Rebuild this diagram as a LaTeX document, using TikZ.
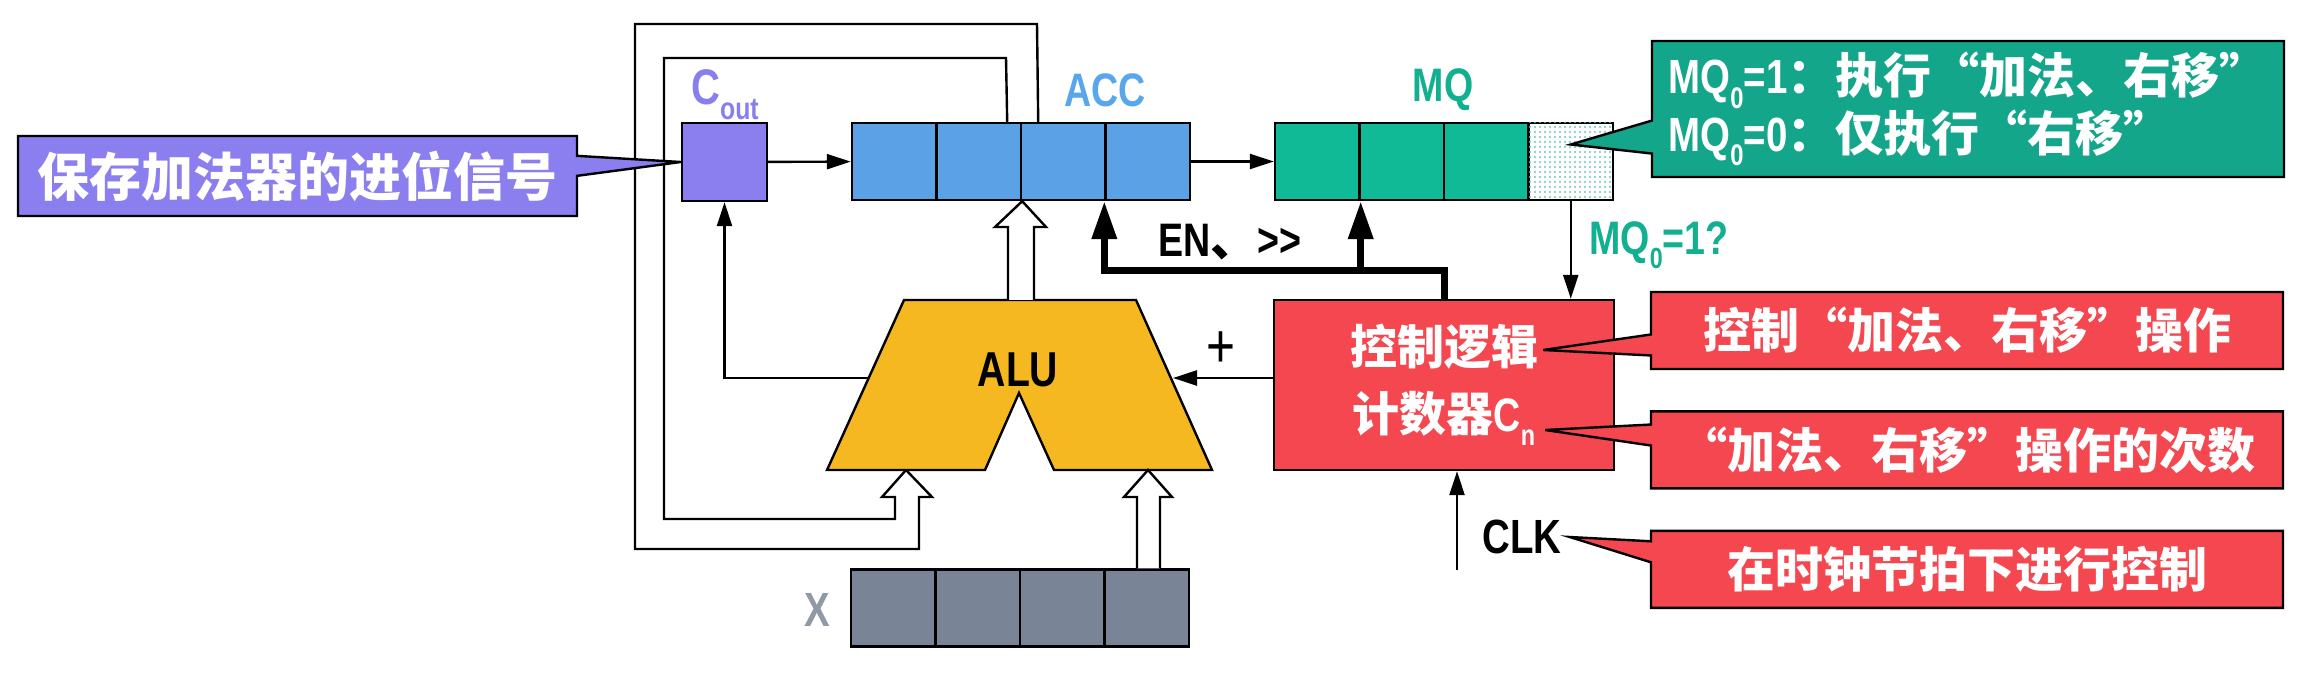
\documentclass[tikz,border=0pt]{standalone}
\usepackage{fontspec}
\setmainfont{Liberation Sans}[FakeStretch=0.8]
\newfontfamily\cj{Noto Sans CJK SC}[RawFeature=+fwid]
\usetikzlibrary{arrows.meta,shapes.callouts,patterns.meta,positioning}

\definecolor{coutpurple}{RGB}{139,127,240}
\definecolor{coutlbl}{RGB}{136,126,238}
\definecolor{accblue}{RGB}{90,161,230}
\definecolor{acclbl}{RGB}{88,166,236}
\definecolor{mqgreen}{RGB}{16,186,150}
\definecolor{mqlbl}{RGB}{18,176,144}
\definecolor{dotgreen}{RGB}{110,200,185}
\definecolor{notegreen}{RGB}{19,166,138}
\definecolor{ctrlred}{RGB}{245,71,79}
\definecolor{aluyellow}{RGB}{245,184,32}
\definecolor{xgray}{RGB}{122,132,151}
\definecolor{xlbl}{RGB}{145,152,168}

\newcommand\lowsub[1]{\raisebox{-.3em}{\scalebox{.62}{#1}}}
\newcommand\cjb[1]{{\cj\bfseries #1}}

\tikzset{
  wire/.style={line width=2.4pt},
  cell/.style={draw,line width=2.4pt,minimum width=84.5pt,minimum height=77pt,inner sep=0pt},
  lbl/.style={inner sep=0pt,font=\fontsize{47}{50}\selectfont\bfseries},
  callbox/.style={rectangle callout,draw,line width=2.4pt,minimum width=632pt,
    minimum height=77pt,inner sep=0pt,text=white,callout pointer width=21pt,
    font=\fontsize{48}{56}\selectfont},
  ctrlline/.style={line width=7pt,-{Triangle[length=38pt,width=24pt]}},
  >={Triangle[length=24pt,width=15pt]}
}

\begin{document}
\begin{tikzpicture}[x=1pt,y=-1pt]
  \useasboundingbox (0,0) rectangle (2306,692);

  % registers
  \node[cell,fill=coutpurple,minimum width=85pt,minimum height=78pt] (cout) at (724.5,162) {};
  \foreach \i in {1,...,4}
    \node[cell,fill=accblue] (acc\i) at ({852+84.5*(\i-0.5)},161.5) {};
  \foreach \i in {1,...,3}
    \node[cell,fill=mqgreen] (mq\i) at ({1275+84.5*(\i-0.5)},161.5) {};
  \node[cell,fill=white,postaction={pattern={Dots[distance=5pt,radius=1.1pt]},pattern color=dotgreen}]
    (mq4) at ({1275+84.5*3.5},161.5) {};
  \foreach \i in {1,...,4}
    \node[cell,fill=xgray] (x\i) at ({851+84.5*(\i-0.5)},608) {};

  \node[lbl,text=coutlbl,font=\fontsize{50}{50}\selectfont\bfseries] (coutname) at (725,95) {C\lowsub{out}};
  \node[lbl,text=acclbl] (accname) at (1105,90) {ACC};
  \node[lbl,text=mqlbl] (mqname) at (1443,90) {MQ};
  \node[lbl,text=xlbl,font=\fontsize{48}{50}\selectfont\bfseries] (xname) at (817,610) {X};

  % feedback bus ACC -> ALU
  \draw[wire] ([xshift=-15pt]acc2.north east) -- (1006,58) -- (664,58) -- (664,519) -- (895,519)
    -- (895,497) -- (882,497) -- (906,470) -- (932,497) -- (919,497) -- (919,549)
    -- (635,549) -- (635,24) -- (1037,24) -- ([xshift=16pt]acc2.north east);

  % ALU
  \draw[wire,fill=aluyellow] (904,300) -- (1136,300) -- (1212,470) -- (1054,470)
    -- (1019,393) -- (985,470) -- (827,470) -- cycle;
  \node[lbl,font=\fontsize{49}{50}\selectfont\bfseries] (alu) at (1018,370) {ALU};
  \coordinate (alul) at (869,378);
  \coordinate (alur) at (1173,378);

  \draw[wire,fill=white] (1008,300) -- (1008,227) -- (995,227) -- (acc2.south east)
    -- (1046,227) -- (1034,227) -- (1034,300);
  \draw[wire,fill=white] (x4.north -| 1137,0) -- (1137,497) -- (1124,497) -- (1148,470)
    -- (1172,497) -- (1160,497) -- (x4.north -| 1160,0);

  % control
  \node[draw,line width=2.4pt,fill=ctrlred,minimum width=340pt,minimum height=170pt,
    text=white,align=center,inner sep=0pt,font=\fontsize{47}{67}\selectfont] (ctrl) at (1444,385)
    {\cjb{控制逻辑}\\\cjb{计数器}{\bfseries C\lowsub{n}}};

  \draw[wire,->] (cout) -- (acc1);
  \draw[wire,->] (acc4) -- (mq1);
  \draw[wire,->] (alul) -| (cout.south);
  \draw[wire,->] (alur -| ctrl.west) -- (alur);
  \node[inner sep=0pt,font=\fontsize{62}{62}\selectfont] (plus) at (1221,350) {+};
  \draw[wire,->] (mq4.south) -- (mq4.south |- ctrl.north);
  \node[lbl,text=mqlbl] (mqtest) at (1659,245) {MQ\lowsub{0}=1?};

  \draw[ctrlline] (ctrl.north) -- ++(0,-28) coordinate (bus) -| (acc4.south west);
  \draw[ctrlline] (bus -| mq1.south east) -- (mq1.south east);
  \node[lbl] (en) at (1230,242) {EN\cjb{、}{>}{>}};

  \coordinate (clkin) at (1457,570);
  \draw[wire,->] (clkin) -- (clkin |- ctrl.south);
  \node[lbl,font=\fontsize{48}{50}\selectfont\bfseries] (clk) at (1522,537) {CLK};

  % notes
  \node[callbox,fill=coutpurple,minimum width=559pt,minimum height=80pt,callout pointer width=20pt,
    font=\fontsize{52}{56}\selectfont,callout absolute pointer={(cout.west)}] (keep) at (297.5,176)
    {\cjb{保存加法器的进位信号}};
  \node[callbox,fill=notegreen,minimum height=136pt,align=left,callout pointer width=33pt,
    callout absolute pointer={([yshift=17pt]mq4.center)}] (mqnote) at (1968,109)
    {{\bfseries MQ\lowsub{0}=1}\cjb{：执行“加法、右移”}\\{\bfseries MQ\lowsub{0}=0}\cjb{：仅执行“右移”}};
  \node[callbox,fill=ctrlred,callout absolute pointer={([xshift=-72pt,yshift=35pt]ctrl.east)}]
    (note1) at (1967,330.5) {\cjb{控制“加法、右移”操作}};
  \node[callbox,fill=ctrlred,below=40pt of note1,
    callout absolute pointer={([xshift=-70pt,yshift=-45pt]ctrl.east)}] (note2)
    {\cjb{“加法、右移”操作的次数}};
  \node[callbox,fill=ctrlred,below=40pt of note2,
    callout absolute pointer={([xshift=8pt]clk.east)}] (note3)
    {\cjb{在时钟节拍下进行控制}};
\end{tikzpicture}
\end{document}
